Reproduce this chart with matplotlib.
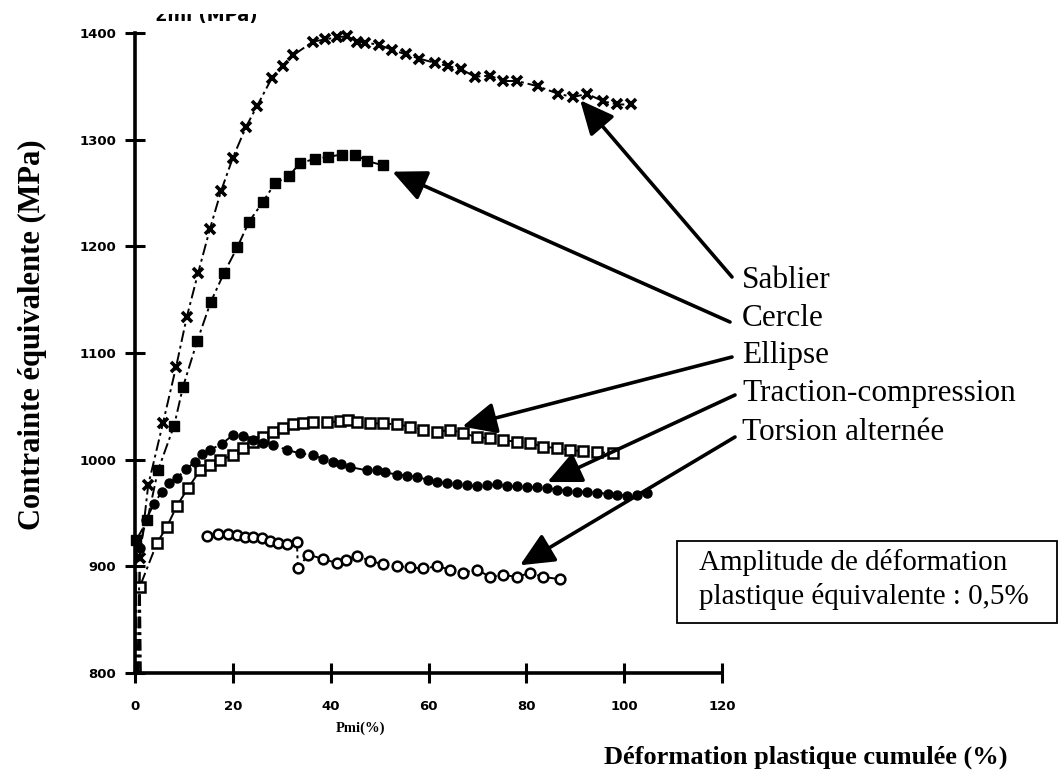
import matplotlib
matplotlib.use("Agg")
import matplotlib.pyplot as plt
from matplotlib.patches import Rectangle

W, H = 1060, 771

# curves (x: cumulated plastic strain %, y: stress MPa)
sablier_x = [0.8, 1.0, 2.7, 5.7, 8.4, 10.6, 12.9, 15.3, 17.6, 20.0,
             22.7, 25.0, 28.0, 30.3, 32.3, 36.4, 38.9, 41.3, 43.4, 45.4,
             47.0, 49.9, 52.6, 55.4, 58.1, 61.3, 64.0, 66.7, 69.5, 72.6,
             75.3, 78.1, 82.4, 86.5, 89.6, 92.4, 95.7, 98.6, 101.4]
sablier_y = [800, 908, 976, 1034, 1087, 1134, 1175, 1216, 1252, 1283,
             1312, 1332, 1358, 1369, 1379, 1392, 1394, 1396, 1397, 1392,
             1391, 1389, 1384, 1380, 1376, 1372, 1369, 1366, 1359, 1360,
             1355, 1355, 1350, 1343, 1340, 1343, 1336, 1333, 1333]

cercle_x = [0.2, 0.3, 2.5, 4.7, 8.0, 9.8, 12.7, 15.5, 18.2, 20.9,
            23.3, 26.2, 28.6, 31.5, 33.7, 36.8, 39.5, 42.3, 45.0, 47.4, 50.7]
cercle_y = [800, 925, 943, 990, 1032, 1068, 1111, 1148, 1175, 1199,
            1223, 1242, 1259, 1266, 1278, 1282, 1284, 1286, 1286, 1280, 1276]

ellipse_x = [1.2, 1.0, 4.5, 6.5, 8.6, 10.8, 13.3, 15.3, 17.4, 20.0,
             22.1, 24.1, 26.2, 28.2, 30.3, 32.3, 34.4, 36.4, 39.3, 41.9,
             43.6, 45.4, 48.1, 50.7, 53.6, 56.2, 58.9, 61.8, 64.4, 67.1,
             69.9, 72.6, 75.3, 78.1, 80.8, 83.4, 86.3, 88.9, 91.6, 94.5, 97.7]
ellipse_y = [800, 881, 922, 937, 957, 973, 990, 995, 1000, 1004,
             1011, 1017, 1021, 1026, 1030, 1033, 1034, 1035, 1035, 1036,
             1037, 1035, 1034, 1034, 1033, 1031, 1028, 1026, 1028, 1025,
             1021, 1020, 1018, 1017, 1016, 1012, 1011, 1009, 1008, 1007, 1006]

traction_x = [0.5, 1.0, 2.2, 3.8, 5.5, 7.0, 8.6, 10.4, 12.3, 13.7,
              15.3, 17.8, 20.0, 22.1, 24.1, 26.2, 28.2, 31.1, 33.7, 36.4,
              38.5, 40.5, 42.2, 44.0, 47.4, 49.5, 51.2, 53.6, 55.6, 57.7,
              59.8, 61.8, 63.8, 65.8, 67.9, 69.9, 72.0, 74.0, 76.0, 78.1,
              80.2, 82.2, 84.3, 86.3, 88.4, 90.4, 92.4, 94.5, 96.6, 98.6,
              100.6, 102.7, 104.7]
traction_y = [800, 917, 943, 958, 970, 978, 983, 991, 998, 1005,
              1009, 1015, 1023, 1022, 1018, 1016, 1014, 1009, 1006, 1004,
              1001, 998, 996, 993, 990, 990, 988, 986, 985, 984,
              981, 979, 978, 977, 976, 975, 976, 977, 975, 975,
              974, 974, 973, 972, 971, 970, 970, 969, 968, 967,
              966, 967, 969]

torsion_x = [14.7, 17.0, 19.0, 20.9, 22.5, 24.1, 25.9, 27.6, 29.2, 31.1,
             33.1, 33.3, 35.4, 38.4, 41.3, 43.2, 45.4, 48.1, 50.7, 53.6,
             56.2, 58.9, 61.8, 64.4, 67.1, 69.9, 72.6, 75.3, 78.1, 80.8,
             83.4, 86.9]
torsion_y = [928.6, 930.5, 930.5, 929.5, 927.6, 927.6, 926.6, 923.8, 921.9, 920.9,
             922.8, 898, 911, 907, 903, 906, 910, 905, 902, 900,
             899, 898, 900, 897, 894, 897, 890, 892, 890, 894,
             890, 888]

labels = ["Sablier", "Cercle", "Ellipse", "Traction-compression", "Torsion alternée"]
# arrow tips in data units
tips = [(91, 1337), (52.6, 1270), (66.9, 1031), (84.3, 979), (78.7, 901)]

x_ticks = [0, 20, 40, 60, 80, 100, 120]
y_ticks = [800, 900, 1000, 1100, 1200, 1300, 1400]


def fx(px):
    return px / W


def fy(py):
    return 1 - py / H


fig = plt.figure(figsize=(W / 100, H / 100), dpi=100)
ax = fig.add_axes([fx(135), fy(673), (722 - 135) / W, (673 - 33) / H])
ax.set_xlim(0, 120)
ax.set_ylim(800, 1400)

dash = (0, (6, 2, 1.5, 2))
common = dict(color="black", lw=1.4, linestyle=dash, clip_on=False)

ax.plot(sablier_x, sablier_y, marker="x", ms=7, mew=2.6,
        markevery=list(range(1, len(sablier_x))), **common)
ax.plot(cercle_x, cercle_y, marker="s", ms=7, mfc="black", mec="black",
        markevery=list(range(1, len(cercle_x))), **common)
ax.plot(ellipse_x, ellipse_y, marker="s", ms=6.5, mfc="white", mec="black", mew=1.8,
        markevery=list(range(1, len(ellipse_x))), **common)
ax.plot(traction_x, traction_y, marker="o", ms=6.5, mfc="black", mec="black",
        markevery=list(range(1, len(traction_x))), **common)
ax.plot(torsion_x, torsion_y, marker="o", ms=7, mfc="white", mec="black", mew=1.8,
        **common)

# hand drawn looking axes
for side in ["top", "right"]:
    ax.spines[side].set_visible(False)
for side in ["left", "bottom"]:
    ax.spines[side].set_linewidth(2.6)
ax.set_xticks(x_ticks)
ax.set_yticks(y_ticks)
ax.tick_params(direction="inout", length=15, width=2.2, labelsize=9.5)
ax.tick_params(axis="x", pad=12)
ax.tick_params(axis="y", pad=6)
for lab in ax.get_xticklabels() + ax.get_yticklabels():
    lab.set_fontweight("bold")

fig.text(fx(360), fy(728), "Pmi(%)", ha="center", va="center",
         fontsize=10.5, fontweight="bold", family="Liberation Serif")

# clipped unit label at the very top of the scan
fig.text(fx(206), fy(16), "Σmi (MPa)", ha="center", va="center",
         fontsize=13, fontweight="bold")
fig.add_artist(Rectangle((0, fy(14)), 1, 14 / H, transform=fig.transFigure,
                         facecolor="white", edgecolor="none", zorder=10))

fig.text(fx(32), fy(335), "Contrainte équivalente (MPa)", rotation=90,
         ha="center", va="center", fontsize=22, fontweight="bold",
         family="Liberation Serif")
fig.text(fx(806), fy(757), "Déformation plastique cumulée (%)",
         ha="center", va="center", fontsize=19, fontweight="bold",
         family="Liberation Serif")

# labels with arrows
label_y = [280, 318, 356, 394, 432]
starts = [(732, 277), (730, 322), (732, 357), (735, 395), (735, 437)]
for lab, ly, tip, st in zip(labels, label_y, tips, starts):
    fig.text(fx(742), fy(ly), lab, ha="left", va="center",
             fontsize=22.5, family="Liberation Serif")
    ax.annotate("", xy=tip, xycoords="data",
                xytext=(fx(st[0]), fy(st[1])), textcoords="figure fraction",
                arrowprops=dict(arrowstyle="-|>,head_length=1.3,head_width=0.6",
                                lw=2.6, color="black", mutation_scale=16,
                                shrinkA=0, shrinkB=0))

fig.add_artist(Rectangle((fx(677), fy(623)), (1057 - 677) / W, (623 - 541) / H,
                         transform=fig.transFigure, fill=False,
                         edgecolor="black", lw=1.3))
fig.text(fx(699), fy(562), "Amplitude de déformation", ha="left", va="center",
         fontsize=21, family="Liberation Serif")
fig.text(fx(699), fy(596), "plastique équivalente : 0,5%", ha="left", va="center",
         fontsize=21, family="Liberation Serif")

fig.savefig("out.png", dpi=100)
